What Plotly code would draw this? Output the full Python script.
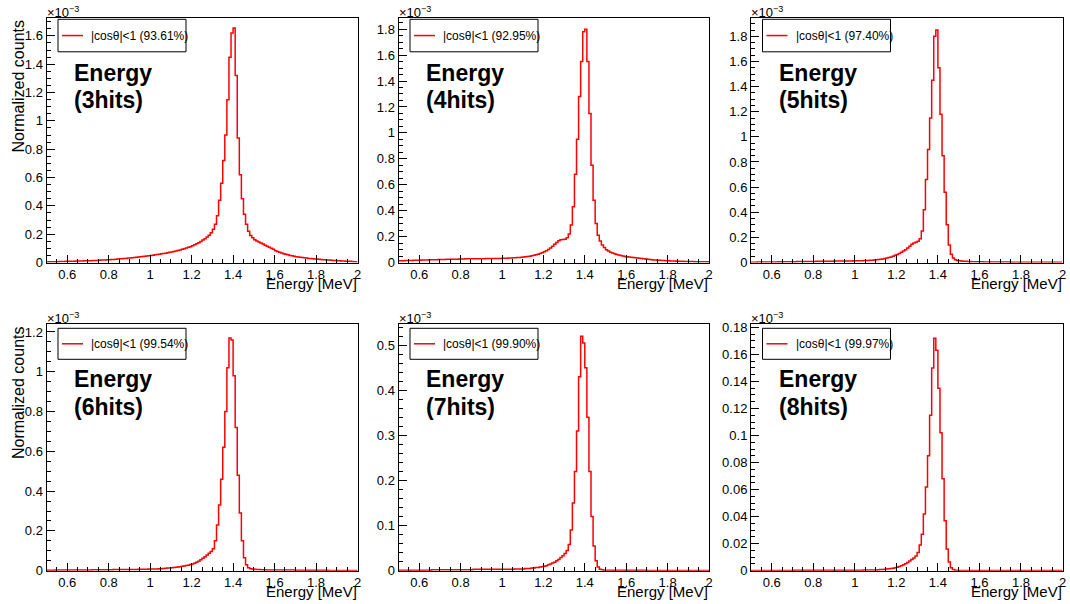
import numpy as np
import plotly.graph_objects as go

# ---------------- data (normalized counts, in units of 1e-3) ----------------
# binning: 150 bins of 0.01 MeV from 0.5 to 2.0 MeV
bin_low = 0.5
bin_width = 0.01
n_bins = 150

counts_3hits = [
    0.004, 0.005, 0.005, 0.006, 0.006, 0.006, 0.007, 0.007, 0.007, 0.008,
    0.008, 0.008, 0.009, 0.009, 0.010, 0.010, 0.011, 0.011, 0.012, 0.012,
    0.013, 0.013, 0.014, 0.015, 0.015, 0.016, 0.017, 0.017, 0.018, 0.019,
    0.020, 0.021, 0.022, 0.023, 0.024, 0.026, 0.027, 0.028, 0.029, 0.031,
    0.032, 0.034, 0.035, 0.037, 0.039, 0.040, 0.042, 0.044, 0.046, 0.048,
    0.050, 0.052, 0.054, 0.056, 0.058, 0.061, 0.063, 0.066, 0.069, 0.072,
    0.075, 0.078, 0.082, 0.085, 0.089, 0.093, 0.097, 0.102, 0.107, 0.112,
    0.118, 0.125, 0.132, 0.140, 0.148, 0.158, 0.168, 0.180, 0.193, 0.210,
    0.235, 0.270, 0.330, 0.440, 0.560, 0.720, 0.900, 1.150, 1.450, 1.620,
    1.655, 1.320, 0.880, 0.620, 0.450, 0.340, 0.270, 0.220, 0.190, 0.175,
    0.160, 0.152, 0.145, 0.138, 0.130, 0.122, 0.114, 0.107, 0.100, 0.093,
    0.083, 0.077, 0.072, 0.067, 0.062, 0.058, 0.054, 0.050, 0.047, 0.044,
    0.041, 0.039, 0.037, 0.035, 0.033, 0.031, 0.029, 0.028, 0.026, 0.025,
    0.024, 0.023, 0.021, 0.020, 0.019, 0.018, 0.017, 0.016, 0.015, 0.014,
    0.013, 0.012, 0.011, 0.010, 0.009, 0.008, 0.008, 0.007, 0.006, 0.005,
]

counts_4hits = [
    0.013, 0.014, 0.014, 0.015, 0.015, 0.016, 0.016, 0.017, 0.017, 0.018,
    0.018, 0.019, 0.019, 0.020, 0.020, 0.021, 0.021, 0.022, 0.022, 0.023,
    0.023, 0.024, 0.024, 0.025, 0.025, 0.025, 0.026, 0.026, 0.026, 0.027,
    0.027, 0.027, 0.028, 0.028, 0.028, 0.028, 0.029, 0.029, 0.029, 0.029,
    0.029, 0.029, 0.030, 0.030, 0.030, 0.030, 0.030, 0.031, 0.031, 0.031,
    0.032, 0.032, 0.033, 0.034, 0.035, 0.036, 0.037, 0.038, 0.039, 0.041,
    0.042, 0.044, 0.046, 0.049, 0.052, 0.055, 0.059, 0.064, 0.069, 0.075,
    0.082, 0.090, 0.100, 0.112, 0.125, 0.140, 0.155, 0.168, 0.176, 0.178,
    0.180, 0.190, 0.220, 0.290, 0.430, 0.680, 0.950, 1.280, 1.550, 1.780,
    1.800, 1.550, 1.150, 0.750, 0.480, 0.300, 0.210, 0.165, 0.135, 0.115,
    0.098, 0.088, 0.080, 0.073, 0.067, 0.062, 0.058, 0.054, 0.050, 0.047,
    0.045, 0.043, 0.041, 0.039, 0.037, 0.035, 0.033, 0.031, 0.029, 0.027,
    0.025, 0.023, 0.022, 0.020, 0.019, 0.018, 0.017, 0.016, 0.015, 0.014,
    0.013, 0.012, 0.011, 0.011, 0.010, 0.010, 0.009, 0.009, 0.008, 0.008,
    0.008, 0.007, 0.007, 0.006, 0.006, 0.006, 0.005, 0.005, 0.005, 0.005,
]

counts_5hits = [
    0.002, 0.002, 0.002, 0.003, 0.003, 0.003, 0.003, 0.003, 0.004, 0.004,
    0.004, 0.004, 0.004, 0.005, 0.005, 0.005, 0.005, 0.006, 0.006, 0.006,
    0.006, 0.006, 0.007, 0.007, 0.007, 0.007, 0.008, 0.008, 0.008, 0.008,
    0.008, 0.009, 0.009, 0.009, 0.009, 0.010, 0.010, 0.010, 0.010, 0.010,
    0.011, 0.011, 0.011, 0.011, 0.011, 0.012, 0.012, 0.012, 0.012, 0.013,
    0.013, 0.013, 0.014, 0.014, 0.015, 0.015, 0.016, 0.017, 0.018, 0.019,
    0.021, 0.023, 0.025, 0.028, 0.031, 0.035, 0.039, 0.044, 0.050, 0.057,
    0.064, 0.072, 0.081, 0.091, 0.102, 0.115, 0.130, 0.145, 0.155, 0.162,
    0.170, 0.190, 0.250, 0.420, 0.660, 0.900, 1.150, 1.450, 1.800, 1.850,
    1.550, 1.180, 0.850, 0.560, 0.300, 0.140, 0.065, 0.035, 0.022, 0.016,
    0.013, 0.011, 0.010, 0.009, 0.008, 0.007, 0.006, 0.006, 0.005, 0.005,
    0.005, 0.005, 0.004, 0.004, 0.004, 0.004, 0.004, 0.003, 0.003, 0.003,
    0.003, 0.003, 0.003, 0.003, 0.003, 0.002, 0.002, 0.002, 0.002, 0.002,
    0.002, 0.002, 0.002, 0.002, 0.002, 0.002, 0.002, 0.001, 0.001, 0.001,
    0.001, 0.001, 0.001, 0.001, 0.001, 0.001, 0.001, 0.001, 0.001, 0.001,
]

counts_6hits = [
    0.002, 0.002, 0.002, 0.002, 0.003, 0.003, 0.003, 0.003, 0.003, 0.003,
    0.003, 0.003, 0.003, 0.004, 0.004, 0.004, 0.004, 0.004, 0.004, 0.004,
    0.004, 0.004, 0.005, 0.005, 0.005, 0.005, 0.005, 0.005, 0.005, 0.005,
    0.005, 0.005, 0.006, 0.006, 0.006, 0.006, 0.006, 0.006, 0.006, 0.006,
    0.006, 0.006, 0.006, 0.006, 0.007, 0.007, 0.007, 0.007, 0.007, 0.008,
    0.008, 0.008, 0.009, 0.009, 0.010, 0.010, 0.011, 0.012, 0.013, 0.014,
    0.015, 0.016, 0.017, 0.019, 0.020, 0.022, 0.024, 0.026, 0.028, 0.031,
    0.034, 0.038, 0.043, 0.048, 0.055, 0.062, 0.070, 0.079, 0.088, 0.097,
    0.110, 0.150, 0.230, 0.330, 0.460, 0.620, 0.800, 1.020, 1.170, 1.160,
    0.980, 0.720, 0.480, 0.290, 0.150, 0.065, 0.030, 0.015, 0.010, 0.008,
    0.007, 0.006, 0.006, 0.005, 0.005, 0.005, 0.004, 0.004, 0.004, 0.004,
    0.004, 0.003, 0.003, 0.003, 0.003, 0.003, 0.003, 0.003, 0.003, 0.003,
    0.002, 0.002, 0.002, 0.002, 0.002, 0.002, 0.002, 0.002, 0.002, 0.002,
    0.002, 0.002, 0.002, 0.002, 0.002, 0.002, 0.001, 0.001, 0.001, 0.001,
    0.001, 0.001, 0.001, 0.001, 0.001, 0.001, 0.001, 0.001, 0.001, 0.001,
]

counts_7hits = [
    0.001, 0.001, 0.001, 0.001, 0.001, 0.001, 0.001, 0.001, 0.001, 0.001,
    0.001, 0.001, 0.001, 0.001, 0.001, 0.001, 0.002, 0.002, 0.002, 0.002,
    0.002, 0.002, 0.002, 0.002, 0.002, 0.002, 0.002, 0.002, 0.002, 0.002,
    0.002, 0.002, 0.002, 0.002, 0.002, 0.002, 0.003, 0.003, 0.003, 0.003,
    0.003, 0.003, 0.003, 0.003, 0.003, 0.003, 0.003, 0.003, 0.003, 0.003,
    0.003, 0.003, 0.003, 0.003, 0.003, 0.003, 0.004, 0.004, 0.004, 0.004,
    0.004, 0.005, 0.005, 0.005, 0.006, 0.006, 0.007, 0.007, 0.008, 0.009,
    0.010, 0.011, 0.013, 0.015, 0.017, 0.019, 0.022, 0.025, 0.029, 0.033,
    0.038, 0.045, 0.058, 0.090, 0.150, 0.220, 0.310, 0.430, 0.520, 0.505,
    0.450, 0.340, 0.220, 0.120, 0.055, 0.022, 0.008, 0.003, 0.002, 0.001,
    0.001, 0.001, 0.001, 0.001, 0.001, 0.001, 0.001, 0.001, 0.001, 0.001,
    0.001, 0.001, 0.001, 0.001, 0.001, 0.001, 0.001, 0.001, 0.001, 0.001,
    0.0005, 0.0005, 0.0005, 0.0005, 0.0005, 0.0005, 0.0005, 0.0005, 0.0005, 0.0005,
    0.0005, 0.0005, 0.0005, 0.0005, 0.0005, 0.0005, 0.0005, 0.0005, 0.0005, 0.0005,
    0.0005, 0.0005, 0.0005, 0.0005, 0.0005, 0.0005, 0.0005, 0.0005, 0.0005, 0.0005,
]

counts_8hits = [
    0.0002, 0.0002, 0.0002, 0.0002, 0.0002, 0.0002, 0.0002, 0.0002, 0.0002, 0.0002,
    0.0002, 0.0002, 0.0002, 0.0002, 0.0002, 0.0002, 0.0002, 0.0002, 0.0002, 0.0002,
    0.0003, 0.0003, 0.0003, 0.0003, 0.0003, 0.0003, 0.0003, 0.0003, 0.0003, 0.0003,
    0.0003, 0.0003, 0.0003, 0.0003, 0.0003, 0.0003, 0.0003, 0.0003, 0.0003, 0.0003,
    0.0004, 0.0004, 0.0004, 0.0004, 0.0004, 0.0004, 0.0004, 0.0004, 0.0004, 0.0004,
    0.0004, 0.0004, 0.0004, 0.0004, 0.0005, 0.0005, 0.0005, 0.0005, 0.0005, 0.0005,
    0.0006, 0.0007, 0.0008, 0.0009, 0.0010, 0.0012, 0.0014, 0.0016, 0.0019, 0.0022,
    0.0026, 0.0031, 0.0037, 0.0044, 0.0052, 0.0061, 0.0071, 0.0082, 0.0094, 0.0108,
    0.0135, 0.0190, 0.0270, 0.0420, 0.0620, 0.0850, 0.1150, 0.1500, 0.1720, 0.1630,
    0.1350, 0.1020, 0.0680, 0.0370, 0.0160, 0.0065, 0.0022, 0.0008, 0.0004, 0.0002,
    0.0001, 0.0001, 0.0001, 0.0001, 0.0001, 0.0001, 0.0001, 0.0001, 0.0001, 0.0001,
    0.0001, 0.0001, 0.0001, 0.0001, 0.0001, 0.0001, 0.0001, 0.0001, 0.0001, 0.0001,
    0.0001, 0.0001, 0.0001, 0.0001, 0.0001, 0.0001, 0.0001, 0.0001, 0.0001, 0.0001,
    0.0001, 0.0001, 0.0001, 0.0001, 0.0001, 0.0001, 0.0001, 0.0001, 0.0001, 0.0001,
    0.0001, 0.0001, 0.0001, 0.0001, 0.0001, 0.0001, 0.0001, 0.0001, 0.0001, 0.0001,
]

hit_labels = ["3hits", "4hits", "5hits", "6hits", "7hits", "8hits"]
fractions = ["93.61%", "92.95%", "97.40%", "99.54%", "99.90%", "99.97%"]
series = [counts_3hits, counts_4hits, counts_5hits, counts_6hits, counts_7hits, counts_8hits]

# ---------------- styling / layout ----------------
W, H = 1070, 604
FONT = "Liberation Sans, Arial, Helvetica, sans-serif"
RED = "#ff0000"

y_axis_cfg = [  # (upper range, major step, minor step)
    (1.73, 0.2, 0.05),
    (1.89, 0.2, 0.05),
    (1.95, 0.2, 0.05),
    (1.24, 0.2, 0.05),
    (0.547, 0.1, 0.02),
    (0.1825, 0.02, 0.005),
]

cols_px = [(46.5, 357.5), (398.5, 709.0), (751.0, 1062.5)]
rows_px = [(17.5, 262.5), (324.0, 570.7)]


def px(xp):
    return xp / W


def py(yp):
    return 1 - yp / H


edges = np.round(bin_low + bin_width * np.arange(n_bins + 1), 4)

fig = go.Figure()
annotations = []
shapes = []

for i in range(6):
    r, c = divmod(i, 3)
    x0p, x1p = cols_px[c]
    y0p, y1p = rows_px[r]
    k = "" if i == 0 else str(i + 1)
    vals = list(series[i])
    fig.add_trace(go.Scatter(
        x=list(edges), y=vals + [vals[-1]],
        mode="lines", line=dict(color=RED, width=1.5, shape="hv"),
        xaxis="x" + k, yaxis="y" + k, showlegend=False, hoverinfo="skip",
    ))
    ytop, ydt, ymin = y_axis_cfg[i]
    common = dict(
        showline=True, linecolor="black", linewidth=1, mirror=True,
        ticks="inside", tickcolor="black", ticklen=8, tickwidth=1,
        showgrid=False, zeroline=False,
        tickfont=dict(family=FONT, size=13, color="black"),
    )
    fig.layout["xaxis" + k] = dict(
        common, domain=[px(x0p), px(x1p)], anchor="y" + k,
        range=[0.5, 2.0], dtick=0.2, tick0=0,
        minor=dict(dtick=0.05, tick0=0, ticks="inside", ticklen=4, tickcolor="black"),
    )
    fig.layout["yaxis" + k] = dict(
        common, domain=[py(y1p), py(y0p)], anchor="x" + k,
        range=[0, ytop], dtick=ydt, tick0=0,
        minor=dict(dtick=ymin, tick0=0, ticks="inside", ticklen=4, tickcolor="black"),
    )

    # x10^-3 multiplier
    annotations.append(dict(
        text="×10<sup>−3</sup>", x=px(x0p - 2), y=py(y0p - 6), xref="paper", yref="paper",
        xanchor="left", yanchor="middle", showarrow=False,
        font=dict(family=FONT, size=13, color="black"),
    ))
    # big label
    annotations.append(dict(
        text="<b>Energy</b>", x=px(x0p + 25.5), y=py(y0p + 55), xref="paper", yref="paper",
        xanchor="left", yanchor="middle", showarrow=False,
        font=dict(family=FONT, size=23, color="black"),
    ))
    annotations.append(dict(
        text="<b>(" + hit_labels[i] + ")</b>", x=px(x0p + 25.5), y=py(y0p + 83), xref="paper", yref="paper",
        xanchor="left", yanchor="middle", showarrow=False,
        font=dict(family=FONT, size=23, color="black"),
    ))
    # x-axis title
    annotations.append(dict(
        text="Energy [MeV]", x=px(x1p + 1), y=py(y1p + 21), xref="paper", yref="paper",
        xanchor="right", yanchor="middle", showarrow=False,
        font=dict(family=FONT, size=15, color="black"),
    ))
    # y-axis title (left column only)
    if c == 0:
        annotations.append(dict(
            text="Normalized counts", x=px(18), y=py(y0p + 0.5), xref="paper", yref="paper",
            xanchor="center", yanchor="top", textangle=-90, showarrow=False,
            font=dict(family=FONT, size=16, color="black"),
        ))
    # legend box
    lt = 1.8 if r == 0 else 4.3
    lb = 34.3 if r == 0 else 35.3
    lcy = (lt + lb) / 2
    shapes.append(dict(
        type="rect", xref="paper", yref="paper",
        x0=px(x0p + 11.5), x1=px(x0p + 139.5), y0=py(y0p + lb), y1=py(y0p + lt),
        line=dict(color="black", width=1), fillcolor="white", layer="above",
    ))
    shapes.append(dict(
        type="line", xref="paper", yref="paper",
        x0=px(x0p + 15.5), x1=px(x0p + 36.5), y0=py(y0p + lcy), y1=py(y0p + lcy),
        line=dict(color=RED, width=1.5), layer="above",
    ))
    annotations.append(dict(
        text="|cosθ|<1 (" + fractions[i] + ")", x=px(x0p + 42.5), y=py(y0p + lcy),
        xref="paper", yref="paper", xanchor="left", yanchor="middle", showarrow=False,
        font=dict(family=FONT, size=12, color="black"),
    ))

fig.update_layout(
    width=W, height=H, template="none",
    margin=dict(l=0, r=0, t=0, b=0, pad=0),
    paper_bgcolor="white", plot_bgcolor="white",
    annotations=annotations, shapes=shapes, showlegend=False,
    font=dict(family=FONT, color="black"),
)

fig.write_html(
    "out.html",
    config={"displayModeBar": False},
    post_script="document.body.style.margin='0';document.body.style.padding='0';document.body.style.overflow='hidden';",
)
